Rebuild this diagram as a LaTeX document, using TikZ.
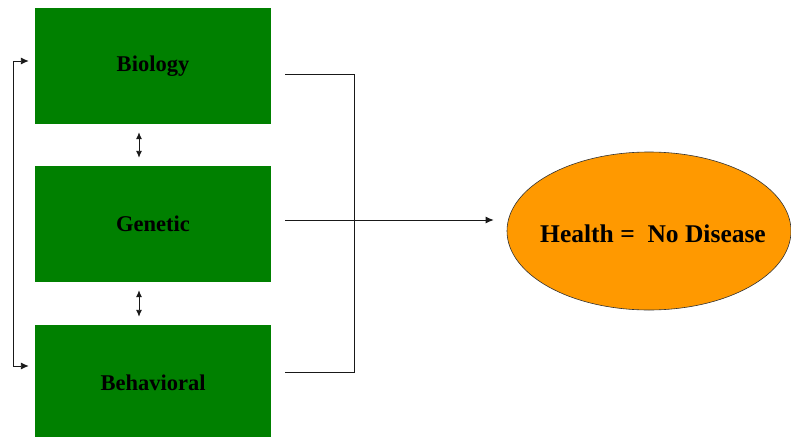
\documentclass[tikz,border=0pt]{standalone}
\usepackage{fontspec}
\setmainfont{Liberation Serif}
\usetikzlibrary{arrows.meta,shapes.geometric}
\definecolor{boxgreen}{RGB}{0,128,0}
\definecolor{healthorange}{RGB}{255,153,0}
\begin{document}
\begin{tikzpicture}[x=1pt,y=-1pt,
  factor/.style={fill=boxgreen, draw=none, minimum width=236pt, minimum height=116pt,
    inner sep=0pt, font=\fontsize{22.5}{26}\selectfont\bfseries},
  outcome/.style={ellipse, fill=healthorange, draw=black!80, line width=0.6pt,
    minimum width=284pt, minimum height=158pt, inner sep=0pt},
  outcometext/.style={inner sep=0pt, font=\fontsize{25.5}{30}\selectfont\bfseries},
  link/.style={draw=black!90, line width=0.9pt},
  tip/.style={-{Latex[length=8pt,width=7pt]}},
  bothtips/.style={{Latex[length=7pt,width=6pt]}-{Latex[length=7pt,width=6pt]}}]
  \useasboundingbox (0,0) rectangle (791,436);

  % three determinant boxes
  \node[factor] (bio) at (153,66)  {Biology};
  \node[factor] (gen) at (153,224) {Genetic};
  \node[factor] (beh) at (153,383) {Behavioral};

  % outcome ellipse and its caption
  \node[outcome] (hl) at (649,231) {};
  \node[outcometext] (hltext) at ([shift={(4,3)}]hl.center) {Health =\ \ No Disease};

  % feedback loop on the left
  \draw[link,{Latex[length=8pt,width=7pt]}-{Latex[length=8pt,width=7pt]}]
    ([shift={(-6,-5)}]bio.west) -- ++(-15,0) |- ([shift={(-6,-17)}]beh.west);

  % interactions between neighbouring boxes
  \draw[link,bothtips] ([shift={(-14,8)}]bio.south) -- ([shift={(-14,-8)}]gen.north);
  \draw[link,bothtips] ([shift={(-14,8)}]gen.south) -- ([shift={(-14,-8)}]beh.north);

  % bracket collecting the three factors
  \draw[link] ([shift={(14,8)}]bio.east) -- ++(69,0) |- ([shift={(14,-11)}]beh.east);
  \draw[link,tip] ([shift={(14,-4)}]gen.east) -- ([shift={(-13,-11)}]hl.west);
\end{tikzpicture}
\end{document}
